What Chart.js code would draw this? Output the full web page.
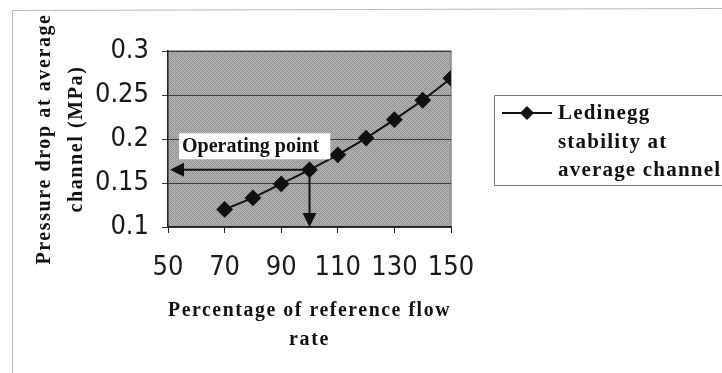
<!DOCTYPE html>
<html lang="en">
<head>
    <meta charset="UTF-8">
    <title>Ledinegg stability</title>
    <script src="https://cdn.jsdelivr.net/npm/chart.js@4.4.1/dist/chart.umd.min.js"></script>
<style>
    html, body { margin:0; padding:0; background:#fff; }
    #wrap { width:722px; height:373px; position:relative; }
</style>
</head>
<body>
    <div id="wrap">
        <canvas id="cv" width="722" height="373"></canvas>
    </div>
<script>

// flow rate (% of reference) and pressure drop (MPa)
var flowPct = [70, 80, 90, 100, 110, 120, 130, 140, 150];
var pressureDrop = [0.120, 0.133, 0.149, 0.165, 0.182, 0.201, 0.222, 0.244, 0.269];
var xTicks = [50, 70, 90, 110, 130, 150];
var yTicks = [0.1, 0.15, 0.2, 0.25, 0.3];
var seriesName = "Ledinegg stability at average channel";
var legendLines = ["Ledinegg", "stability at", "average channel"];
var opIndex = 3;   // operating point = 100 %
var opLabel = "Operating point";

var serif = "'Liberation Serif', 'Times New Roman', serif";
var narrow = "'DejaVu Sans Condensed', 'Liberation Sans', sans-serif";

var pts = flowPct.map(function (x, i) { return { x: x, y: pressureDrop[i] }; });

// dithered grey fill like the old spreadsheet plot area
function makePattern(ctx) {
    var c = document.createElement('canvas');
    c.width = 4; c.height = 4;
    var g = c.getContext('2d');
    var shades = ['#959595', '#b0b0b0', '#9e9e9e', '#b6b6b6',
                  '#adadad', '#909090', '#b4b4b4', '#999999',
                  '#9b9b9b', '#b8b8b8', '#929292', '#acacac',
                  '#b2b2b2', '#a0a0a0', '#afafaf', '#949494'];
    for (var i = 0; i < 16; i++) {
        g.fillStyle = shades[i];
        g.fillRect(i % 4, Math.floor(i / 4), 1, 1);
    }
    return ctx.createPattern(c, 'repeat');
}

var plotBg = {
    id: 'plotBg',
    beforeDraw: function (chart) {
        var ctx = chart.ctx, a = chart.chartArea;
        // axis titles are set with wide letter spacing
        Object.values(chart.scales).forEach(function (s) {
            if (s._spaced) return;
            var orig = s.drawTitle;
            s.drawTitle = function () {
                this.ctx.save();
                if ('letterSpacing' in this.ctx) this.ctx.letterSpacing = '1.6px';
                orig.apply(this, arguments);
                this.ctx.restore();
            };
            s._spaced = true;
        });
        ctx.save();
        // faint page frame
        ctx.strokeStyle = '#b8b8b8';
        ctx.lineWidth = 1;
        ctx.beginPath();
        ctx.moveTo(12.5, 373); ctx.lineTo(12.5, 10.5); ctx.lineTo(722, 8.5);
        ctx.stroke();
        ctx.fillStyle = makePattern(ctx);
        ctx.fillRect(a.left, a.top, a.right - a.left, a.bottom - a.top);
        ctx.strokeStyle = '#8a8a8a';
        ctx.lineWidth = 1.5;
        ctx.strokeRect(a.left, a.top, a.right - a.left, a.bottom - a.top);
        ctx.restore();
    }
};

function arrowHead(ctx, x, y, dir) {
    // dir: 'left' or 'down'
    ctx.beginPath();
    if (dir === 'left') {
        ctx.moveTo(x, y); ctx.lineTo(x + 14, y - 7); ctx.lineTo(x + 14, y + 7);
    } else {
        ctx.moveTo(x, y); ctx.lineTo(x - 7, y - 14); ctx.lineTo(x + 7, y - 14);
    }
    ctx.closePath();
    ctx.fill();
}

var opMarker = {
    id: 'opMarker',
    afterDatasetsDraw: function (chart) {
        var ctx = chart.ctx, xs = chart.scales.x, ys = chart.scales.y;
        var px = xs.getPixelForValue(flowPct[opIndex]);
        var py = ys.getPixelForValue(pressureDrop[opIndex]);
        var x0 = xs.getPixelForValue(xs.min);
        var y0 = ys.getPixelForValue(ys.min);
        ctx.save();
        ctx.strokeStyle = '#111';
        ctx.fillStyle = '#111';
        ctx.lineWidth = 2;
        ctx.beginPath();
        ctx.moveTo(px, py); ctx.lineTo(x0 + 10, py);
        ctx.moveTo(px, py); ctx.lineTo(px, y0 - 10);
        ctx.stroke();
        arrowHead(ctx, x0 + 2, py, 'left');
        arrowHead(ctx, px, y0, 'down');

        // label box
        ctx.font = 'bold 20px ' + serif;
        var tw = ctx.measureText(opLabel).width;
        var bx = xs.getPixelForValue(53.9), by = ys.getPixelForValue(0.2065);
        ctx.fillStyle = '#fff';
        ctx.fillRect(bx, by, tw + 14, 26);
        ctx.fillStyle = '#111';
        ctx.textBaseline = 'middle';
        ctx.fillText(opLabel, bx + 3, by + 14);
        ctx.restore();
    }
};

var sideLegend = {
    id: 'sideLegend',
    afterDraw: function (chart) {
        var ctx = chart.ctx;
        var ds = chart.data.datasets[0];
        ctx.save();
        ctx.strokeStyle = '#777';
        ctx.lineWidth = 1;
        ctx.beginPath();
        ctx.moveTo(722, 95.5); ctx.lineTo(494.5, 95.5); ctx.lineTo(494.5, 185.5); ctx.lineTo(722, 185.5);
        ctx.stroke();
        // sample line + marker
        ctx.strokeStyle = ds.borderColor;
        ctx.lineWidth = 2;
        ctx.beginPath();
        ctx.moveTo(502, 113); ctx.lineTo(552, 113);
        ctx.stroke();
        ctx.fillStyle = ds.pointBackgroundColor;
        ctx.beginPath();
        ctx.moveTo(527, 106); ctx.lineTo(534, 113); ctx.lineTo(527, 120); ctx.lineTo(520, 113);
        ctx.closePath(); ctx.fill();
        ctx.font = 'bold 21px ' + serif;
        ctx.fillStyle = '#111';
        ctx.textBaseline = 'middle';
        if ('letterSpacing' in ctx) ctx.letterSpacing = '1.2px';
        legendLines.forEach(function (t, i) { ctx.fillText(t, 558, 114 + i * 28.5); });
        ctx.restore();
    }
};

new Chart(document.getElementById('cv'), {
    type: 'line',
    data: {
        datasets: [{
            label: seriesName,
            data: pts,
            borderColor: '#111',
            borderWidth: 2,
            backgroundColor: '#111',
            pointBackgroundColor: '#111',
            pointBorderColor: '#111',
            pointStyle: 'rectRot',
            pointRadius: 7,
            tension: 0,
            fill: false
        }]
    },
    options: {
        responsive: false,
        animation: false,
        events: [],
        layout: { padding: { top: 51, right: 271, left: 0, bottom: 0 } },
        plugins: { legend: { display: false }, tooltip: { enabled: false } },
        scales: {
            x: {
                type: 'linear',
                min: xTicks[0], max: xTicks[xTicks.length - 1],
                afterFit: function (s) { s.height = 146; },
                afterBuildTicks: function (s) { s.ticks = xTicks.map(function (v) { return { value: v }; }); },
                grid: { drawOnChartArea: false, tickLength: 6, color: '#222' },
                border: { color: '#222', width: 1.5 },
                ticks: { color: '#1a1a1a', padding: 19, maxRotation: 0, font: { family: narrow, size: 27 } },
                title: {
                    display: true,
                    text: ['Percentage of reference flow', 'rate'],
                    color: '#111',
                    font: { family: serif, size: 20, weight: 'bold', lineHeight: 1.45 },
                    padding: { top: 0, bottom: 19 }
                }
            },
            y: {
                min: yTicks[0], max: yTicks[yTicks.length - 1],
                afterFit: function (s) { s.width = 168; },
                afterBuildTicks: function (s) { s.ticks = yTicks.map(function (v) { return { value: v }; }); },
                grid: { tickLength: 6, color: '#3a3a3a', lineWidth: 1 },
                border: { color: '#222', width: 1.5 },
                ticks: {
                    color: '#1a1a1a', padding: 13,
                    font: { family: narrow, size: 27 },
                    callback: function (v) { return String(+v.toFixed(2)); }
                },
                title: {
                    display: true,
                    text: ['Pressure drop at average', 'channel (MPa)'],
                    color: '#111',
                    font: { family: serif, size: 20, weight: 'bold', lineHeight: 1.6 },
                    padding: { top: 29, bottom: 0 }
                }
            }
        }
    },
    plugins: [plotBg, opMarker, sideLegend]
});

</script>
</body>
</html>
